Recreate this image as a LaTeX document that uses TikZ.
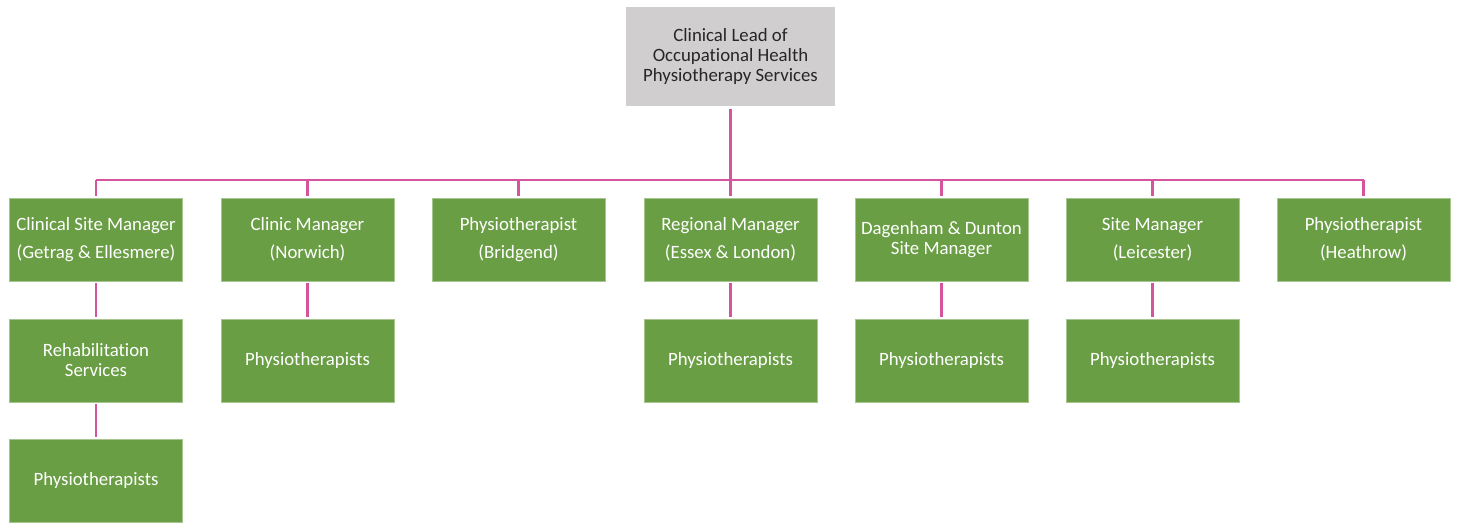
\documentclass[tikz,border=0pt]{standalone}
\usepackage{fontspec}
\setmainfont[Ligatures=NoCommon]{Carlito}
\definecolor{boxgreen}{HTML}{6A9E45}
\definecolor{boxgray}{HTML}{D0CECE}
\definecolor{linkpink}{HTML}{D6549C}
\begin{document}
\begin{tikzpicture}[x=0.02cm, y=-0.02cm,
    role/.style={fill=boxgreen, draw=boxgreen!60!white, line width=0.4pt, text=white,
        minimum width=3.46cm, minimum height=1.66cm, align=center, inner sep=2pt,
        font=\fontsize{10.7}{11.4}\selectfont},
    lead/.style={fill=boxgray, text=black!85, minimum width=4.18cm, minimum height=2cm,
        align=center, font=\fontsize{10.7}{11.4}\selectfont},
    link/.style={draw=linkpink, line width=1.7pt, shorten >=0.04cm, shorten <=0.04cm}]
    \useasboundingbox (0,0) rectangle (1457,523);

    \node[lead] (top) at (730.5,56.5) {Clinical Lead of\\Occupational Health\\Physiotherapy Services};

    \node[role] (csm) at (96,239.5) {Clinical Site Manager\\[4.5pt](Getrag \& Ellesmere)};
    \node[role] (cmn) at (307.5,239.5) {Clinic Manager\\[4.5pt](Norwich)};
    \node[role] (pbr) at (518.5,239.5) {Physiotherapist\\[4.5pt](Bridgend)};
    \node[role] (rml) at (730.5,239.5) {Regional Manager\\[4.5pt](Essex \& London)};
    \node[role] (ddm) at (941.5,239.5) {Dagenham \& Dunton\\Site Manager};
    \node[role] (sml) at (1152.5,239.5) {Site Manager\\[4.5pt](Leicester)};
    \node[role] (phe) at (1363.5,239.5) {Physiotherapist\\[4.5pt](Heathrow)};

    \node[role] (rsv) at (96,360.5) {Rehabilitation\\Services};
    \node[role] (ptn) at (307.5,360.5) {Physiotherapists};
    \node[role] (pte) at (730.5,360.5) {Physiotherapists};
    \node[role] (ptd) at (941.5,360.5) {Physiotherapists};
    \node[role] (ptl) at (1152.5,360.5) {Physiotherapists};

    \node[role] (ptg) at (96,480.5) {Physiotherapists};

    \coordinate (bus) at (730.5,180);
    \draw[link] (top.south) -- (rml.north);
    \draw[draw=linkpink, line width=1.7pt] (csm.north |- bus) -- (phe.north |- bus);
    \foreach \n in {csm,cmn,pbr,ddm,sml,phe}
        \draw[link, shorten >=0pt] (\n.north) -- (\n.north |- bus);

    \draw[link] (csm.south) -- (rsv.north);
    \draw[link] (rsv.south) -- (ptg.north);
    \draw[link] (cmn.south) -- (ptn.north);
    \draw[link] (rml.south) -- (pte.north);
    \draw[link] (ddm.south) -- (ptd.north);
    \draw[link] (sml.south) -- (ptl.north);
\end{tikzpicture}
\end{document}
